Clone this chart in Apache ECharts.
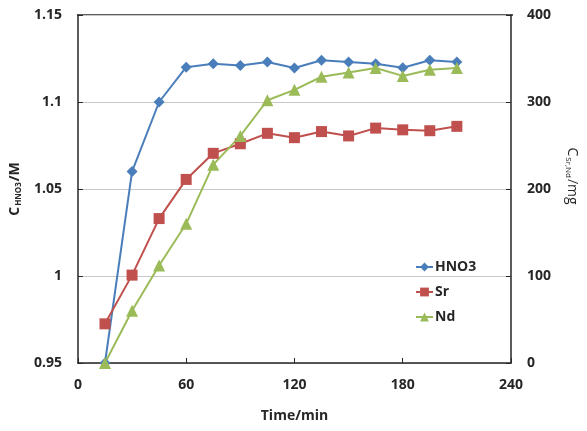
<!DOCTYPE html>
<html>
<head>
<meta charset="utf-8">
<script src="https://cdn.jsdelivr.net/npm/echarts@6/dist/echarts.min.js"></script>
<style>
  html, body { margin: 0; padding: 0; background: #fff; }
  #chart { width: 587px; height: 431px; }
</style>
</head>
<body>
<div id="chart"></div>
<script>
  // time points (min)
  const times = [15, 30, 45, 60, 75, 90, 105, 120, 135, 150, 165, 180, 195, 210];
  // left axis: HNO3 concentration (M)
  const hno3 = [0.95, 1.06, 1.10, 1.12, 1.122, 1.121, 1.123, 1.1195, 1.124, 1.123, 1.122, 1.1197, 1.124, 1.123];
  // right axis: Sr and Nd (mg)
  const sr = [45, 101, 166, 211, 241, 252, 264, 259, 266, 261, 270, 268, 267, 272];
  const nd = [0, 60, 112, 160, 228, 261, 302, 314, 329, 334, 339, 330, 337, 339];

  const xTicks = [0, 240, 60];
  const leftTicks = [0.95, 1.15, 0.05];
  const rightTicks = [0, 400, 100];

  const pairs = ys => times.map((t, i) => [t, ys[i]]);
  const font = 'Open Sans';
  const labelStyle = { color: '#262626', fontWeight: 'bold', fontSize: 14, fontFamily: font };

  const chart = echarts.init(document.getElementById('chart'));
  const option = {
    animation: false,
    grid: { left: 77, right: 74, top: 15, bottom: 68, show: false },
    legend: {
      orient: 'vertical',
      left: 410, top: 255,
      itemGap: 11,
      itemWidth: 17, itemHeight: 11,
      textStyle: Object.assign({ padding: [0, 0, 0, -3] }, labelStyle),
      data: ['HNO3', 'Sr', 'Nd']
    },
    xAxis: {
      type: 'value',
      min: xTicks[0], max: xTicks[1], interval: xTicks[2],
      name: 'Time/min',
      nameLocation: 'middle',
      nameGap: 46,
      nameTextStyle: labelStyle,
      axisLine: { lineStyle: { color: '#262626', width: 1.5 } },
      axisTick: { inside: true, length: 5, lineStyle: { color: '#262626' } },
      axisLabel: Object.assign({ margin: 15 }, labelStyle),
      splitLine: { show: false }
    },
    yAxis: [{
      type: 'value',
      position: 'left',
      min: leftTicks[0], max: leftTicks[1], interval: leftTicks[2],
      name: '{a|C}{b|HNO3}{a|/M}',
      nameLocation: 'middle',
      nameGap: 46,
      nameRotate: 90,
      nameTextStyle: {
        rich: {
          a: { fontSize: 14, fontWeight: 'bold', color: '#262626', fontFamily: font, lineHeight: 18 },
          b: { fontSize: 8, fontWeight: 'bold', color: '#262626', fontFamily: font, padding: [8, 1, 0, 1] }
        }
      },
      axisLine: { show: true, lineStyle: { color: '#262626', width: 1.5 } },
      axisTick: { show: true, inside: true, length: 5, lineStyle: { color: '#262626' } },
      axisLabel: Object.assign({ margin: 16 }, labelStyle),
      splitLine: { show: true, lineStyle: { color: '#c8c8c8', width: 1.2 } }
    }, {
      type: 'value',
      position: 'right',
      min: rightTicks[0], max: rightTicks[1], interval: rightTicks[2],
      name: '{a|C}{b|Sr,Nd}{a|/mg}',
      nameLocation: 'middle',
      nameGap: 52,
      nameRotate: -90,
      nameTextStyle: {
        padding: [0, 26, 0, 0],
        rich: {
          a: { fontSize: 14, fontWeight: 'normal', color: '#262626', fontFamily: font, lineHeight: 18 },
          b: { fontSize: 8, color: '#262626', fontFamily: font, padding: [8, 1, 0, 1] }
        }
      },
      axisLine: { show: true, lineStyle: { color: '#262626', width: 1.5 } },
      axisTick: { show: true, inside: true, length: 5, lineStyle: { color: '#262626' } },
      axisLabel: Object.assign({ margin: 16 }, labelStyle),
      splitLine: { show: false }
    }],
    graphic: [{
      type: 'line',
      shape: { x1: 77, y1: 15, x2: 513, y2: 15 },
      style: { stroke: '#262626', lineWidth: 1.5 }
    }],
    series: [{
      name: 'HNO3',
      type: 'line',
      yAxisIndex: 0,
      data: pairs(hno3),
      symbol: 'diamond',
      symbolSize: 11,
      color: '#4a7ebb',
      lineStyle: { width: 2 }
    }, {
      name: 'Sr',
      type: 'line',
      yAxisIndex: 1,
      data: pairs(sr),
      symbol: 'rect',
      symbolSize: 11,
      color: '#c0504d',
      lineStyle: { width: 2 }
    }, {
      name: 'Nd',
      type: 'line',
      yAxisIndex: 1,
      data: pairs(nd),
      symbol: 'triangle',
      symbolSize: 12,
      color: '#9bbb59',
      lineStyle: { width: 2 }
    }]
  };
  chart.setOption(option);
</script>
</body>
</html>
